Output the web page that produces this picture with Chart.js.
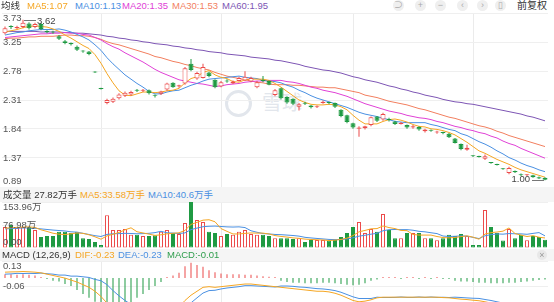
<!DOCTYPE html>
<html><head><meta charset="utf-8">
<script src="https://cdn.jsdelivr.net/npm/chart.js@4.4.0/dist/chart.umd.min.js"></script>
<style>
html,body{margin:0;padding:0}
body{width:554px;height:302px;overflow:hidden;background:#fff;position:relative;font-family:"Liberation Sans","Noto Sans CJK SC",sans-serif}
canvas{position:absolute;left:0}
.t{position:absolute;font-size:9.5px;line-height:10px;white-space:nowrap;color:#444}
.band{position:absolute;left:0;width:554px;background:#f5f5f5}
.ic{position:absolute;top:0;width:11px;height:11px;border-radius:50%;background:#efefef;color:#aaa;font-size:9px;line-height:11px;text-align:center}
</style></head>
<body>
<div class="band" style="top:187px;height:15px"></div>
<div class="band" style="top:249px;height:12px"></div>
<div style="position:absolute;left:225px;top:90px;width:21px;height:21px;border:3px solid #e2e6ec;border-radius:50%"></div>
<div style="position:absolute;left:262px;top:91px;font-size:20px;line-height:22px;color:#e2e6ec;font-family:'Noto Sans CJK SC'">雪球</div>
<canvas id="cP" width="554" height="174" style="top:13px"></canvas>
<canvas id="cV" width="554" height="46" style="top:202px"></canvas>
<canvas id="cM" width="554" height="50" style="top:261px"></canvas>
<script>
// ---------- data ----------
const opens = [3.40,3.51,3.48,3.50,3.56,3.50,3.55,3.43,3.42,3.35,
3.27,3.24,3.18,3.11,3.10,2.77,2.50,2.26,2.28,2.34,
2.38,2.40,2.47,2.46,2.47,2.39,2.41,2.48,2.59,2.53,
2.58,2.90,2.66,2.67,2.76,2.64,2.53,2.63,2.58,2.62,
2.63,2.61,2.52,2.63,2.62,2.39,2.50,2.36,2.33,2.20,
2.26,2.22,2.19,2.26,2.27,2.26,2.15,2.06,1.93,1.84,
1.85,1.90,2.04,1.99,2.00,1.96,1.92,1.90,1.86,1.87,
1.80,1.82,1.78,1.78,1.76,1.68,1.59,1.50,1.40,1.39,
1.35,1.29,1.26,1.19,1.12,1.15,1.10,1.08,1.08,1.05,1.04];
const closes = [3.48,3.50,3.50,3.57,3.48,3.55,3.47,3.42,3.41,3.31,
3.24,3.22,3.13,3.10,3.06,2.76,2.49,2.31,2.33,2.40,
2.43,2.44,2.46,2.47,2.42,2.38,2.45,2.58,2.52,2.55,
2.83,2.80,2.75,2.85,2.70,2.52,2.60,2.61,2.61,2.67,
2.69,2.67,2.60,2.62,2.56,2.47,2.34,2.27,2.25,2.24,
2.25,2.19,2.20,2.28,2.26,2.20,2.05,1.95,1.86,1.86,
1.88,2.03,1.97,2.08,1.98,1.92,1.93,1.86,1.88,1.83,
1.83,1.81,1.79,1.77,1.70,1.61,1.51,1.53,1.39,1.38,
1.39,1.28,1.25,1.18,1.20,1.13,1.08,1.09,1.05,1.03,1.01];
const highs = [3.51,3.53,3.52,3.62,3.58,3.57,3.57,3.45,3.44,3.37,
3.29,3.25,3.20,3.12,3.11,2.78,2.51,2.33,2.35,2.42,
2.45,2.46,2.49,2.49,2.48,2.40,2.46,2.59,2.60,2.56,
2.85,2.98,2.77,2.90,2.77,2.65,2.62,2.65,2.63,2.69,
2.78,2.69,2.62,2.70,2.63,2.49,2.51,2.37,2.34,2.26,
2.28,2.23,2.22,2.30,2.28,2.27,2.16,2.07,1.94,1.88,
1.89,2.04,2.05,2.10,2.02,1.97,1.95,1.91,1.90,1.88,
1.84,1.83,1.81,1.79,1.77,1.69,1.60,1.58,1.41,1.40,
1.42,1.30,1.27,1.20,1.22,1.16,1.11,1.10,1.09,1.06,1.05];
const lows = [3.38,3.47,3.47,3.48,3.46,3.48,3.45,3.40,3.39,3.29,
3.22,3.20,3.11,3.08,3.04,2.75,2.48,2.24,2.26,2.32,
2.36,2.38,2.44,2.44,2.40,2.35,2.39,2.46,2.51,2.51,
2.56,2.78,2.64,2.66,2.68,2.50,2.52,2.59,2.57,2.61,
2.62,2.60,2.50,2.60,2.55,2.37,2.32,2.25,2.23,2.14,
2.23,2.17,2.18,2.25,2.24,2.18,2.03,1.93,1.84,1.71,
1.83,1.88,1.95,1.97,1.96,1.90,1.91,1.84,1.84,1.81,
1.78,1.79,1.76,1.75,1.69,1.60,1.49,1.48,1.38,1.37,
1.33,1.27,1.24,1.17,1.10,1.12,1.07,1.07,1.04,1.02,1.00];
const ma5 = [3.42,3.44,3.46,3.49,3.51,3.52,3.51,3.50,3.47,3.43,
3.37,3.32,3.26,3.20,3.15,3.05,2.91,2.74,2.59,2.46,
2.39,2.38,2.41,2.44,2.44,2.43,2.44,2.46,2.47,2.50,
2.59,2.66,2.69,2.76,2.79,2.72,2.68,2.66,2.61,2.60,
2.64,2.65,2.65,2.65,2.63,2.58,2.52,2.45,2.38,2.31,
2.27,2.24,2.23,2.23,2.24,2.23,2.20,2.15,2.06,1.98,
1.92,1.92,1.92,1.96,1.99,2.00,1.98,1.95,1.91,1.88,
1.87,1.84,1.83,1.81,1.78,1.74,1.68,1.62,1.55,1.48,
1.44,1.39,1.34,1.30,1.26,1.21,1.17,1.14,1.11,1.08,1.05];
const ma10 = [3.37,3.39,3.41,3.42,3.44,3.45,3.46,3.46,3.46,3.47,
3.45,3.42,3.38,3.34,3.29,3.21,3.12,3.00,2.90,2.81,
2.72,2.65,2.58,2.52,2.45,2.41,2.41,2.44,2.46,2.47,
2.51,2.55,2.58,2.62,2.65,2.66,2.67,2.68,2.69,2.70,
2.68,2.67,2.66,2.63,2.62,2.61,2.59,2.55,2.52,2.47,
2.43,2.38,2.34,2.31,2.28,2.25,2.22,2.19,2.15,2.11,
2.08,2.06,2.04,2.01,1.99,1.96,1.95,1.94,1.94,1.94,
1.94,1.91,1.89,1.86,1.83,1.81,1.76,1.73,1.68,1.63,
1.59,1.54,1.48,1.43,1.37,1.33,1.28,1.24,1.21,1.17,1.14];
const ma20 = [3.33,3.34,3.35,3.36,3.37,3.38,3.39,3.39,3.40,3.40,
3.41,3.40,3.40,3.38,3.37,3.33,3.29,3.23,3.18,3.14,
3.08,3.03,2.98,2.93,2.87,2.81,2.76,2.72,2.68,2.64,
2.62,2.60,2.58,2.57,2.55,2.53,2.54,2.56,2.57,2.58,
2.60,2.61,2.62,2.62,2.63,2.63,2.63,2.61,2.60,2.58,
2.55,2.52,2.50,2.47,2.45,2.43,2.40,2.37,2.33,2.29,
2.25,2.22,2.19,2.16,2.13,2.11,2.09,2.06,2.04,2.02,
2.01,1.99,1.96,1.94,1.91,1.88,1.86,1.83,1.81,1.78,
1.76,1.72,1.69,1.64,1.60,1.57,1.52,1.48,1.44,1.40,1.36];
const ma30 = [3.31,3.32,3.32,3.33,3.34,3.34,3.35,3.35,3.35,3.36,
3.37,3.37,3.36,3.36,3.35,3.33,3.30,3.26,3.23,3.21,
3.18,3.15,3.12,3.09,3.06,3.02,3.00,2.97,2.94,2.92,
2.89,2.87,2.84,2.82,2.80,2.76,2.73,2.70,2.68,2.66,
2.64,2.62,2.60,2.59,2.57,2.56,2.56,2.56,2.55,2.55,
2.54,2.53,2.52,2.52,2.51,2.51,2.49,2.47,2.45,2.43,
2.39,2.37,2.35,2.32,2.29,2.27,2.25,2.23,2.20,2.17,
2.15,2.12,2.09,2.06,2.03,2.01,1.98,1.95,1.92,1.89,
1.87,1.84,1.80,1.77,1.73,1.70,1.67,1.64,1.61,1.58,1.55];
const ma60 = [3.43,3.43,3.43,3.43,3.43,3.43,3.42,3.42,3.42,3.42,
3.41,3.41,3.40,3.40,3.39,3.38,3.37,3.35,3.34,3.32,
3.31,3.29,3.28,3.26,3.25,3.23,3.22,3.21,3.19,3.18,
3.16,3.15,3.13,3.12,3.10,3.09,3.08,3.06,3.05,3.04,
3.03,3.01,3.00,2.99,2.98,2.96,2.95,2.93,2.91,2.89,
2.86,2.84,2.82,2.80,2.79,2.77,2.75,2.72,2.69,2.67,
2.64,2.62,2.60,2.57,2.54,2.52,2.49,2.47,2.44,2.42,
2.39,2.37,2.35,2.32,2.30,2.28,2.27,2.25,2.24,2.22,
2.20,2.18,2.16,2.14,2.12,2.10,2.08,2.05,2.03,2.00,1.97];
const volumes = [70,77,67,70,70,60,37,40,40,54,
54,50,54,33,30,20,10,110,60,60,
64,44,44,40,40,43,54,60,50,47,
84,153.96,94,87,54,50,40,47,44,54,
60,47,44,44,40,33,33,33,30,33,
20,27,27,27,24,27,37,50,70,87,
50,64,54,114,60,33,33,50,50,50,
33,33,26,33,44,40,47,40,10,10,
127,70,50,25,64,33,44,26,40,37,27.82];
const volMa5 = [66,68,69,70,70.8,68.8,60.8,55.4,49.4,46.2,
45,47.6,50.4,49,44.2,37.4,29.4,40.6,46,52,
60.8,67.6,54.4,50.4,46.4,42.2,44.2,47.4,49.4,50.8,
59,79,85.8,93.2,94.6,87.8,65,55.6,47,47,
49,50.4,49.8,49.8,47,41.6,38.8,36.6,33.8,32.4,
29.8,28.6,27.4,26.8,25,26.4,28.4,33,41.6,54.2,
58.8,64.2,65,73.8,68.4,65,58.8,58,45.2,43.2,
43.2,43.2,38.4,35,33.8,35.2,38,40.8,36.2,29.4,
46.8,51.4,53.4,56.4,67.2,48.4,43.2,38.4,41.4,36,33.58];
const volMa10 = [64,65,66,67,67,66,64,62,60,58.5,
56.9,54.2,52.9,49.2,45.2,41.2,38.5,45.5,47.5,48.1,
49.1,48.5,47.5,48.2,49.2,51.5,55.9,50.9,49.9,48.6,
50.6,61.6,66.6,71.3,72.7,73.4,72,70.7,70.1,70.8,
68.4,57.7,52.7,48.4,47,45.3,44.6,43.2,41.8,39.7,
35.7,33.7,32,30.3,28.7,28.1,28.5,30.2,34.2,39.6,
42.6,46.3,49,57.7,61.3,61.9,61.5,61.5,59.5,55.8,
54.1,51,48.2,40.1,38.5,39.2,40.6,39.6,35.6,31.6,
41,44.7,47.1,46.3,48.3,47.6,47.3,45.9,48.9,51.6,40.6];
const dif = [0.045,0.047,0.048,0.05,0.048,0.045,0.04,0.03,0.02,0.01,
0.0,-0.015,-0.03,-0.05,-0.07,-0.10,-0.14,-0.19,-0.24,-0.27,
-0.29,-0.30,-0.30,-0.30,-0.29,-0.28,-0.27,-0.25,-0.24,-0.22,
-0.17,-0.13,-0.10,-0.07,-0.065,-0.07,-0.065,-0.06,-0.055,-0.05,
-0.045,-0.045,-0.05,-0.055,-0.06,-0.065,-0.07,-0.075,-0.08,-0.085,
-0.09,-0.095,-0.10,-0.10,-0.105,-0.115,-0.13,-0.15,-0.17,-0.18,
-0.175,-0.165,-0.15,-0.145,-0.145,-0.145,-0.145,-0.145,-0.145,-0.145,
-0.145,-0.145,-0.145,-0.148,-0.15,-0.155,-0.16,-0.163,-0.168,-0.172,
-0.18,-0.19,-0.20,-0.21,-0.215,-0.22,-0.225,-0.228,-0.23,-0.23,-0.23];
const dea = [0.03,0.032,0.036,0.035,0.036,0.035,0.038,0.033,0.03,0.023,
0.023,0.015,0.015,0.01,0.005,-0.01,-0.02,-0.05,-0.095,-0.135,
-0.17,-0.20,-0.225,-0.24,-0.245,-0.25,-0.255,-0.2525,-0.25,-0.24,
-0.215,-0.188,-0.15,-0.1135,-0.095,-0.0925,-0.0825,-0.075,-0.07,-0.065,
-0.0575,-0.0575,-0.06,-0.0625,-0.065,-0.0675,-0.06,-0.06,-0.0625,-0.0675,
-0.07,-0.075,-0.08,-0.0825,-0.0875,-0.095,-0.1075,-0.125,-0.1425,-0.155,
-0.155,-0.155,-0.145,-0.1475,-0.1475,-0.1465,-0.1435,-0.1465,-0.1465,-0.1435,
-0.1465,-0.1435,-0.1465,-0.1455,-0.1475,-0.145,-0.1475,-0.1505,-0.153,-0.1545,
-0.1625,-0.17,-0.18,-0.19,-0.1975,-0.2025,-0.21,-0.2155,-0.22,-0.2225,-0.225];
const macdHist = [0.03,0.03,0.025,0.03,0.025,0.02,0.005,-0.005,-0.02,-0.025,
-0.045,-0.06,-0.09,-0.12,-0.15,-0.18,-0.24,-0.28,-0.29,-0.27,
-0.24,-0.2,-0.15,-0.12,-0.09,-0.06,-0.03,0.005,0.02,0.04,
0.09,0.116,0.10,0.087,0.06,0.045,0.035,0.03,0.03,0.03,
0.025,0.025,0.02,0.015,0.01,0.005,-0.02,-0.03,-0.035,-0.035,
-0.04,-0.04,-0.04,-0.035,-0.035,-0.04,-0.045,-0.05,-0.055,-0.05,
-0.04,-0.02,-0.01,0.005,0.005,0.003,-0.003,0.003,0.003,-0.003,
0.003,-0.003,0.003,-0.005,-0.005,-0.02,-0.025,-0.025,-0.03,-0.035,
-0.035,-0.04,-0.04,-0.04,-0.035,-0.035,-0.03,-0.025,-0.02,-0.015,-0.01];
const monthStarts = [16, 36, 58, 78];
const priceTicks = [0.89, 1.37, 1.84, 2.31, 2.78, 3.25, 3.73];
const priceTickLabels = ['0.89','1.37','1.84','2.31','2.78','3.25','3.73'];
const volTicks = [0, 76.98, 153.96];
const volTickLabels = ['0.00','76.98万','153.96万'];
const macdTicks = [-0.25, -0.06, 0.13];
const macdTickLabels = ['-0.25','-0.06','0.13'];
const maNames = ['MA5','MA10','MA20','MA30','MA60'];
const maLast = ['1.07','1.13','1.35','1.53','1.95'];
const volLegend = {vol:'27.82万手', ma5:'33.58万手', ma10:'40.6万手'};
const macdLegend = {dif:'-0.23', dea:'-0.23', macd:'-0.01'};

// ---------- styling ----------
const N = closes.length;
const cats = Array.from({length: N}, (_, i) => 'D' + (i + 1));
const RED = '#ec4b4b', GREEN = '#1f9a42';
const maColors = ['#f5a623', '#4a90e2', '#e041d6', '#f27f5f', '#7d55b4'];
const isUp = i => closes[i] >= opens[i];

function xScale() {
  return { type: 'category', offset: true,
    ticks: { display: false, autoSkip: false },
    border: { display: false },
    grid: { offset: false, drawTicks: false,
      color: c => (c.tick && monthStarts.includes(c.tick.value)) ? '#ebebeb' : 'rgba(0,0,0,0)' } };
}
function yScale(min, max, ticks) {
  return { min, max,
    afterBuildTicks: s => { s.ticks = ticks.map(v => ({ value: v })); },
    ticks: { display: false }, border: { display: false },
    grid: { drawTicks: false, color: '#efefef' } };
}
const base = {
  responsive: false, animation: false, events: [],
  layout: { padding: { left: 2, right: 6, top: 0, bottom: 0 } },
  plugins: { legend: { display: false }, tooltip: { enabled: false } }
};
const line = (data, color, order) => ({ type: 'line', data, borderColor: color, borderWidth: 1,
  pointRadius: 0, tension: 0, fill: false, order });

// ---------- price chart ----------
const chartP = new Chart(document.getElementById('cP'), {
  type: 'bar',
  data: { labels: cats, datasets: [
    { data: opens.map((o, i) => [o, closes[i]]), grouped: false, barThickness: 5, minBarLength: 1,
      backgroundColor: c => isUp(c.dataIndex) ? '#ffffff' : GREEN,
      borderColor: c => isUp(c.dataIndex) ? RED : GREEN,
      borderWidth: 1, borderSkipped: false, inflateAmount: 0, order: 0 },
    { data: lows.map((l, i) => [l, highs[i]]), grouped: false, barThickness: 1,
      backgroundColor: c => isUp(c.dataIndex) ? RED : GREEN, borderWidth: 0, inflateAmount: 0, order: 1 },
    line(ma5, maColors[0], 2), line(ma10, maColors[1], 2), line(ma20, maColors[2], 2),
    line(ma30, maColors[3], 2), line(ma60, maColors[4], 2)
  ] },
  options: Object.assign({}, base, { scales: { x: xScale(), y: yScale(0.89, 3.73, priceTicks) } })
});

// ---------- volume chart ----------
const chartV = new Chart(document.getElementById('cV'), {
  type: 'bar',
  data: { labels: cats, datasets: [
    line(volMa5, maColors[0], 0), line(volMa10, maColors[1], 0),
    { data: volumes, grouped: false, barThickness: 4,
      backgroundColor: c => isUp(c.dataIndex) ? '#ffffff' : GREEN,
      borderColor: c => isUp(c.dataIndex) ? RED : GREEN,
      borderWidth: 1, borderSkipped: false, inflateAmount: 0, order: 1 }
  ] },
  options: Object.assign({}, base, { scales: { x: xScale(), y: yScale(0, 153.96, volTicks) } })
});

// ---------- MACD chart ----------
const chartM = new Chart(document.getElementById('cM'), {
  type: 'bar',
  data: { labels: cats, datasets: [
    line(dif, maColors[0], 0), line(dea, maColors[1], 0),
    { data: macdHist, grouped: false, barThickness: 1, minBarLength: 1,
      backgroundColor: c => macdHist[c.dataIndex] >= 0 ? RED : GREEN, borderWidth: 0, inflateAmount: 0, order: 1 }
  ] },
  options: Object.assign({}, base, { scales: { x: xScale(), y: yScale(-0.25, 0.13, macdTicks) } })
});

// ---------- text overlays ----------
function txt(s, left, cy, color, extra) {
  const d = document.createElement('div');
  d.className = 't'; d.textContent = s;
  d.style.left = left + 'px'; d.style.top = (cy - 5) + 'px';
  if (color) d.style.color = color;
  if (extra) Object.assign(d.style, extra);
  document.body.appendChild(d); return d;
}
function axisLabels(chart, top, ticks, labels) {
  const ys = chart.scales.y;
  ticks.forEach((v, k) => {
    const py = top + ys.getPixelForValue(v);
    let cy = py;
    if (k === 0) cy = py - 6; else if (k === ticks.length - 1) cy = py + 5;
    txt(labels[k], 3, cy, '#555');
  });
}
axisLabels(chartP, 13, priceTicks, priceTickLabels);
axisLabels(chartV, 202, volTicks, volTickLabels);
axisLabels(chartM, 261, macdTicks, macdTickLabels);

// top legend
txt('均线', 1, 5.5, '#333');
const maLeft = [27, 75, 122, 172, 222];
maNames.forEach((n, k) => txt(n + ':' + maLast[k], maLeft[k], 5.5, maColors[k]));
// volume legend
txt('成交量 ' + volLegend.vol, 3, 194.5, '#333');
txt('MA5:' + volLegend.ma5, 80, 194.5, maColors[0]);
txt('MA10:' + volLegend.ma10, 148, 194.5, maColors[1]);
// MACD legend
txt('MACD (12,26,9)', 2, 255, '#333');
txt('DIF:' + macdLegend.dif, 75, 255, maColors[0]);
txt('DEA:' + macdLegend.dea, 118, 255, maColors[1]);
txt('MACD:' + macdLegend.macd, 167, 255, '#2e9d4c');

// high / low markers
function hline(x1, x2, y) {
  const d = document.createElement('div');
  Object.assign(d.style, { position: 'absolute', left: Math.min(x1, x2) + 'px', top: Math.round(y) + 'px',
    width: Math.abs(x2 - x1) + 'px', height: '1px', background: '#777' });
  document.body.appendChild(d);
}
let iMax = 0, iMin = 0;
highs.forEach((h, i) => { if (h > highs[iMax]) iMax = i; });
lows.forEach((l, i) => { if (l < lows[iMin]) iMin = i; });
{
  const x = chartP.scales.x.getPixelForValue(iMax);
  const y = 13 + chartP.scales.y.getPixelForValue(highs[iMax]);
  hline(x + 1, x + 13, y);
  txt(highs[iMax].toFixed(2), x + 14, y + 1, '#444');
}
{
  const x = chartP.scales.x.getPixelForValue(iMin);
  const y = 13 + chartP.scales.y.getPixelForValue(lows[iMin]);
  hline(x - 13, x - 1, y);
  txt(lows[iMin].toFixed(2), 0, y - 1, '#444', { left: 'auto', right: (554 - (x - 15)) + 'px' });
}

// toolbar
const icons = ['⊃', '+', '−', '‹', '›', '▯'];
const iconX = [393, 415, 435, 457, 477, 495];
icons.forEach((g, k) => {
  const d = document.createElement('div');
  d.className = 'ic'; d.textContent = g; d.style.left = iconX[k] + 'px';
  document.body.appendChild(d);
});
txt('前复权', 517, 5.5, '#333', { fontSize: '10px' });
const cl = document.createElement('div');
cl.className = 'ic'; cl.textContent = '×';
Object.assign(cl.style, { left: '537px', top: '250px', width: '10px', height: '10px', lineHeight: '10px', background: '#e8e8e8', color: '#999' });
document.body.appendChild(cl);
</script>
</body></html>
